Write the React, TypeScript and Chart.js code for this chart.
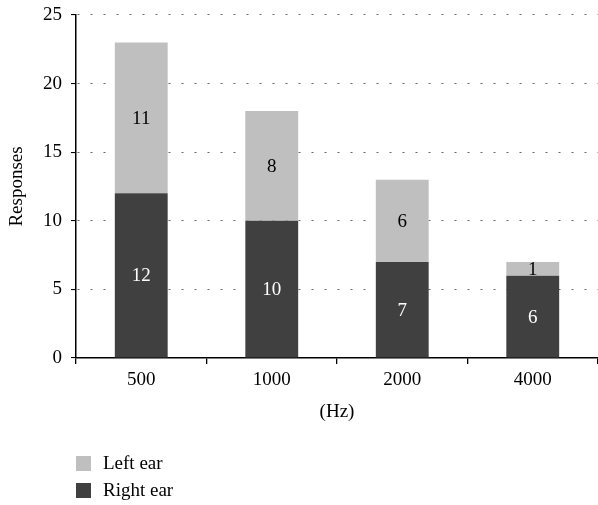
import { useEffect, useRef } from "react";
import Chart from "chart.js/auto";

const frequencies = ["500", "1000", "2000", "4000"];
const rightEar = [12, 10, 7, 6];
const leftEar = [11, 8, 6, 1];
const yTicks = [0, 5, 10, 15, 20, 25];

const DARK = "#404040";
const LIGHT = "#bfbfbf";
const FONT = "'Liberation Serif', 'Times New Roman', serif";

// writes each segment's value in its middle
const barLabels = {
  id: "barLabels",
  afterDatasetsDraw(chart: Chart) {
    const { ctx } = chart;
    ctx.save();
    ctx.font = `19px ${FONT}`;
    ctx.textAlign = "center";
    ctx.textBaseline = "middle";
    chart.data.datasets.forEach((ds, i) => {
      const meta = chart.getDatasetMeta(i);
      meta.data.forEach((bar, j) => {
        const { x, y, base } = bar.getProps(["x", "y", "base"], true) as any;
        ctx.fillStyle = i === 0 ? "#ffffff" : "#000000";
        ctx.fillText(String(ds.data[j]), x, (y + base) / 2 + 1);
      });
    });
    ctx.restore();
  },
};

const App = () => {
  const canvasRef = useRef<HTMLCanvasElement>(null);

  useEffect(() => {
    document.body.style.margin = "0";
    if (!canvasRef.current) return;

    const chart = new Chart(canvasRef.current, {
      type: "bar",
      data: {
        labels: frequencies,
        datasets: [
          {
            label: "Right ear",
            data: rightEar,
            backgroundColor: DARK,
            categoryPercentage: 1,
            barPercentage: 0.405,
          },
          {
            label: "Left ear",
            data: leftEar,
            backgroundColor: LIGHT,
            categoryPercentage: 1,
            barPercentage: 0.405,
          },
        ],
      },
      options: {
        responsive: false,
        animation: false,
        layout: { padding: { top: 15, bottom: 82, left: 0, right: 0 } },
        plugins: {
          legend: { display: false },
          tooltip: { enabled: false },
        },
        scales: {
          x: {
            stacked: true,
            offset: true,
            grid: {
              offset: true,
              drawOnChartArea: false,
              tickLength: 6,
              tickColor: "#000",
              lineWidth: 1.3,
            },
            border: { color: "#000", width: 1.5 },
            ticks: { color: "#000", padding: 5, font: { family: FONT, size: 19 } },
            title: {
              display: true,
              text: "(Hz)",
              color: "#000",
              padding: { top: 0, bottom: 0 },
              font: { family: FONT, size: 19 },
            },
            afterFit: (s) => {
              s.height = 65;
              s.paddingLeft = 0;
              s.paddingRight = 0;
            },
          },
          y: {
            stacked: true,
            min: 0,
            max: 25,
            afterBuildTicks: (s) => {
              s.ticks = yTicks.map((v) => ({ value: v }));
            },
            grid: {
              color: "#666",
              lineWidth: 1.1,
              tickLength: 5,
              tickColor: "#000",
              tickBorderDash: [],
            },
            border: { color: "#000", width: 1.5, dash: [2, 11], dashOffset: -1 },
            ticks: { color: "#000", padding: 9, font: { family: FONT, size: 19 } },
            title: {
              display: true,
              text: "Responses",
              color: "#000",
              padding: { top: 6, bottom: 0 },
              font: { family: FONT, size: 19 },
            },
            afterFit: (s) => {
              s.width = 76;
              s.paddingTop = 0;
              s.paddingBottom = 0;
            },
          },
        },
      },
      plugins: [barLabels],
    });

    return () => {
      chart.destroy();
    };
  }, []);

  // legend lists the top segment first, like the stack
  const legendItems = [
    { label: "Left ear", color: LIGHT },
    { label: "Right ear", color: DARK },
  ];

  return (
    <div style={{ position: "relative", width: 598, height: 505 }}>
      <canvas ref={canvasRef} width={598} height={505} />
      <div style={{ position: "absolute", left: 76, top: 450, fontFamily: FONT, fontSize: 19 }}>
        {legendItems.map((item) => (
          <div key={item.label} style={{ display: "flex", alignItems: "center", height: 26.7 }}>
            <span
              style={{
                display: "inline-block",
                width: 15,
                height: 15,
                background: item.color,
                marginRight: 12,
              }}
            />
            <span>{item.label}</span>
          </div>
        ))}
      </div>
    </div>
  );
};

export default App;
